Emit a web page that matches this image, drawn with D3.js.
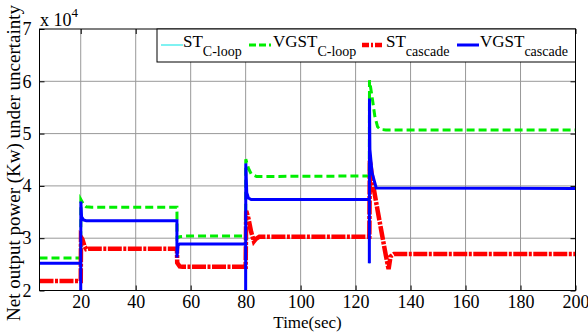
<!DOCTYPE html>
<html>
<head>
<meta charset="utf-8">
<script src="https://cdn.jsdelivr.net/npm/d3@7"></script>
<style>
  body { margin: 0; background: #fff; }
  text { font-family: "Liberation Serif", "Times New Roman", serif; fill: #000; }
</style>
</head>
<body>
<script>
// Datos: [tiempo (s), potencia (Kw)]
let vgstCloop = [[5, 26200], [20, 26200], [20.05, 37400], [21, 36500], [22, 36000], [24, 35900], [55, 35900],
  [55.05, 30000], [56, 30300], [58, 30400], [80, 30400], [80.05, 45100], [81, 43400], [82, 42300], [84, 41800],
  [125, 41900], [125.05, 60200], [126, 57000], [127, 53300], [128, 51300], [129, 50800], [131, 50700], [200, 50700]]

let stCascade = [[5, 21800], [20, 21800], [20.1, 30200], [20.6, 29800], [21.3, 28600], [22, 27900], [23, 28000],
  [55, 28000], [55.1, 25300], [56, 24600], [57, 24550], [80, 24550], [80.2, 35200], [81, 33800], [82, 31200],
  [83, 29400], [83.6, 29800], [85, 30300], [125, 30300], [125.2, 44800], [126.5, 39800], [128, 35300],
  [129.5, 31000], [131, 26700], [132, 24100], [132.7, 26500], [134, 27000], [200, 27000]]

let vgstCascade = [[5, 25200], [20, 25200], [20, 20000], [20.05, 37000], [20.3, 34100], [21, 33500], [22, 33350],
  [55, 33350], [55, 26300], [55.4, 28600], [56, 28900], [80, 28900], [80, 20000], [80.05, 44300], [80.4, 38700],
  [81, 37700], [82, 37400], [125, 37400], [125, 25200], [125.05, 56700], [125.2, 47000], [126, 42500],
  [127.5, 39600], [200, 39500]]

// ST C-loop no se ve en la figura: queda debajo de la traza azul
let stCloop = vgstCascade

let xTicks = [20, 40, 60, 80, 100, 120, 140, 160, 180, 200]
let yTicks = [20000, 30000, 40000, 50000, 60000, 70000]

let series = [
  {name: "ST", sub: "C-loop", data: stCloop, color: "#00e5e5", width: 1, dash: null, legDash: null, lx: 161, tx: 183},
  {name: "VGST", sub: "C-loop", data: vgstCloop, color: "#00ee00", width: 3, dash: "8,4", legDash: "7,3", lx: 249, tx: 273},
  {name: "ST", sub: "cascade", data: stCascade, color: "#ff0000", width: 4.5, dash: "14,1.5,3,1.5", legDash: "7,2,2,2", lx: 362, tx: 386},
  {name: "VGST", sub: "cascade", data: vgstCascade, color: "#0000ff", width: 3, dash: null, legDash: null, lx: 457, tx: 480}
]

let W = 588, H = 335
let m = {left: 39.5, right: 575.5, top: 29, bottom: 290.5}
let serif = "Liberation Serif"

let svg = d3.select("body")
        .append("svg")
        .attr("width", W)
        .attr("height", H)

let x = d3.scaleLinear().domain([5, 200]).range([m.left, m.right])
let y = d3.scaleLinear().domain([20000, 70000]).range([m.bottom, m.top])

// Rejilla
svg.append("g")
    .selectAll("line")
    .data(xTicks.filter(d => d < 200))
    .join("line")
    .attr("x1", d => x(d)).attr("x2", d => x(d))
    .attr("y1", m.top).attr("y2", m.bottom)
    .style("stroke", "#999")
    .style("stroke-width", 1)

svg.append("g")
    .selectAll("line")
    .data(yTicks.filter(d => d > 20000 && d < 70000))
    .join("line")
    .attr("x1", m.left).attr("x2", m.right)
    .attr("y1", d => y(d)).attr("y2", d => y(d))
    .style("stroke", "#999")
    .style("stroke-width", 1)

// Ejes (ticks hacia dentro, estilo MATLAB)
let fmtY = d => d / 10000
let axes = [
  {ax: d3.axisBottom(x).tickValues(xTicks).tickSize(-5).tickPadding(5), t: `translate(0,${m.bottom})`, lab: true},
  {ax: d3.axisTop(x).tickValues(xTicks).tickSize(-5), t: `translate(0,${m.top})`, lab: false},
  {ax: d3.axisLeft(y).tickValues(yTicks).tickSize(-5).tickPadding(8).tickFormat(fmtY), t: `translate(${m.left},0)`, lab: true},
  {ax: d3.axisRight(y).tickValues(yTicks).tickSize(-5), t: `translate(${m.right},0)`, lab: false}
]
axes.forEach(a => {
  let g = svg.append("g").attr("transform", a.t).call(a.ax)
      .attr("font-family", serif)
      .attr("font-size", 18)
  g.select(".domain").remove()
  g.selectAll("line").style("stroke", "#000")
  if (a.lab) g.selectAll("text").style("font-family", serif).style("font-size", "18px")
  else g.selectAll("text").remove()
})

// Curvas
let line = d3.line().x(d => x(d[0])).y(d => y(d[1]))

svg.append("g")
    .selectAll("path")
    .data(series)
    .join("path")
    .attr("d", d => line(d.data))
    .style("fill", "none")
    .style("stroke", d => d.color)
    .style("stroke-width", d => d.width)
    .style("stroke-dasharray", d => d.dash)

// Marco
svg.append("rect")
    .attr("x", m.left).attr("y", m.top)
    .attr("width", m.right - m.left).attr("height", m.bottom - m.top)
    .style("fill", "none")
    .style("stroke", "#000")
    .style("stroke-width", 1)

// Leyenda
svg.append("rect")
    .attr("x", 157).attr("y", m.top)
    .attr("width", m.right - 157).attr("height", 33)
    .style("fill", "#fff")
    .style("stroke", "#000")
    .style("stroke-width", 1)

let leg = svg.append("g")
    .selectAll("g")
    .data(series)
    .join("g")

leg.append("line")
    .attr("x1", d => d.lx).attr("x2", d => d.lx + 22)
    .attr("y1", 45).attr("y2", 45)
    .style("stroke", d => d.color)
    .style("stroke-width", d => d.width)
    .style("stroke-dasharray", d => d.legDash)

let lt = leg.append("text")
    .attr("x", d => d.tx)
    .attr("y", 47)
    .style("font-family", serif)
    .style("font-size", "17px")
lt.append("tspan").text(d => d.name)
lt.append("tspan").attr("dy", 9).style("font-size", "14px").text(d => d.sub)

// Etiquetas de ejes
svg.append("text")
    .attr("x", (m.left + m.right) / 2)
    .attr("y", 328)
    .attr("text-anchor", "middle")
    .style("font-family", serif)
    .style("font-size", "17px")
    .text("Time(sec)")

svg.append("text")
    .attr("transform", `translate(20,163) rotate(-90)`)
    .attr("text-anchor", "middle")
    .style("font-family", serif)
    .style("font-size", "19px")
    .text("Net output power (Kw) under uncertainty")

let mult = svg.append("text")
    .attr("x", 40)
    .attr("y", 26)
    .style("font-family", serif)
    .style("font-size", "18px")
mult.append("tspan").text("x 10")
mult.append("tspan").attr("dy", -9).style("font-size", "13px").text("4")
</script>
</body>
</html>
